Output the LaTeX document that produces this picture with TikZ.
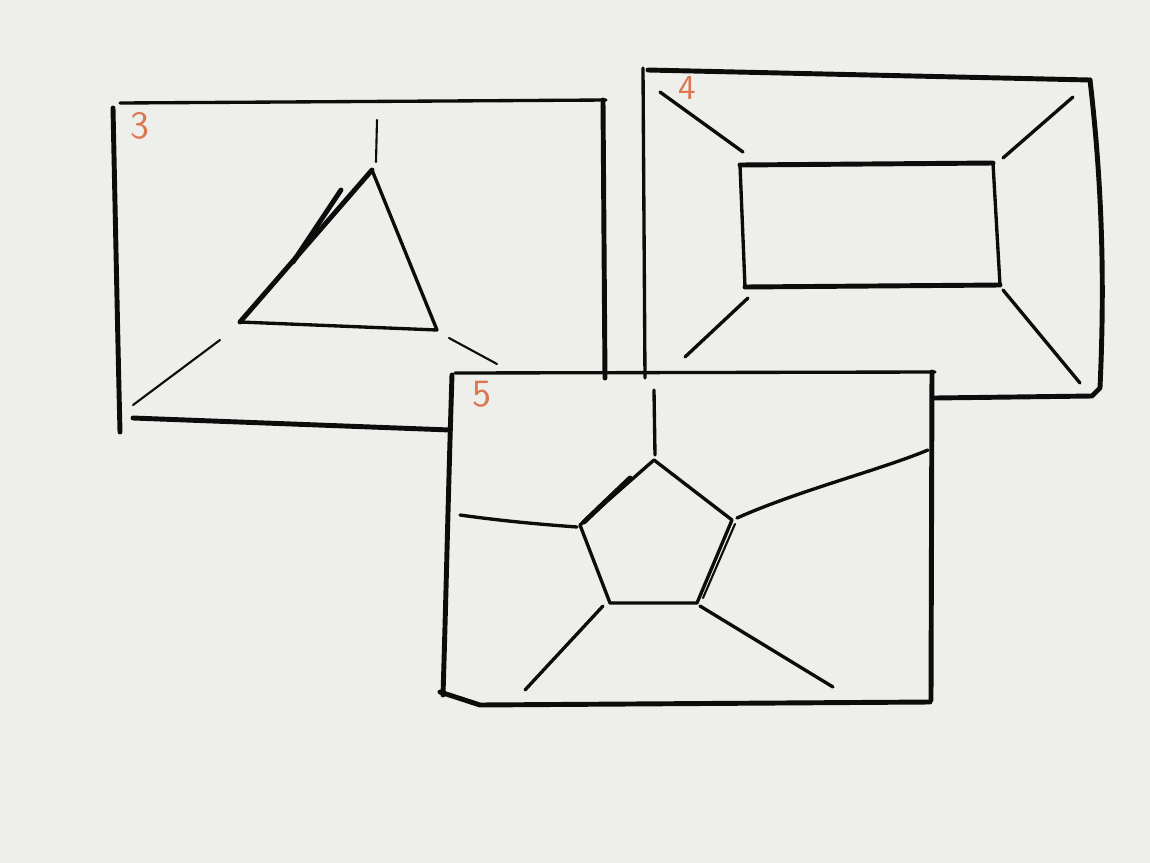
\documentclass[tikz,border=0pt]{standalone}
\usepackage{xcolor}
\usepackage{tikz}
\usetikzlibrary{calc}
\definecolor{SkInk}{RGB}{12,12,12}
\definecolor{SkPaper}{RGB}{238,238,234}
\definecolor{SkOrange}{RGB}{220,118,80}

\begin{document}
\begin{tikzpicture}[x=0.01cm, y=-0.01cm,
    ink/.style={SkInk, line width=0.6pt, line cap=round, line join=round},
    heavy/.style={ink, line width=1.4pt},
    medium/.style={ink, line width=0.95pt},
    tag/.style={SkOrange, font=\sffamily\fontsize{11}{11}\selectfont, inner sep=0pt}]
        % Paper
        \fill[SkPaper] (0,0) rectangle (1150,863);
        \useasboundingbox (0,0) rectangle (1150,863);

        % Sketch 3: triangle in a frame
        \draw[medium] (120,103) -- (606,100);
        \draw[heavy] (113,108) .. controls (116,250) and (118,350) .. (120,432);
        \draw[heavy] (133,418) -- (450,430);
        \draw[heavy] (603,100) -- (605,378);
        \node[tag] (n3) at (140,126) {3};
        \coordinate (t1) at (372,170);
        \coordinate (t2) at (240,322);
        \coordinate (t3) at (437,330);
        \draw[medium] (t2) -- (t3) -- (t1);
        \draw[heavy] (t1) -- (t2);
        \draw[heavy] (341,190) -- (293,262);
        \draw[ink] (377,120) -- (376,162);
        \draw[ink] (220,340) -- (133,405);
        \draw[ink] (449,338) -- (497,364);

        % Sketch 4: rectangle in a frame
        \draw[heavy] (648,70) -- (1090,80);
        \draw[medium] (643,68) -- (645,378);
        \draw[heavy] (1090,80) .. controls (1104,200) and (1104,300) .. (1100,388)
              -- (1092,396) -- (935,398);
        \node[tag, font=\sffamily\fontsize{10}{10}\selectfont] (n4) at (687,88) {4};
        \draw[heavy] (740,165) -- (993,163);
        \draw[medium] (993,163) -- (1000,285);
        \draw[heavy] (1000,285) -- (745,287);
        \draw[medium] (745,287) -- (740,165);
        \draw[medium] (660,92) -- (743,152);
        \draw[medium] (1003,158) -- (1073,97);
        \draw[medium] (748,298) -- (685,357);
        \draw[medium] (1003,290) -- (1080,383);

        % Sketch 5: pentagon in a frame
        \draw[medium] (455,373) -- (935,372);
        \draw[heavy] (452,375) .. controls (448,500) and (446,600) .. (443,695);
        \draw[heavy] (440,692) -- (480,705) -- (930,702);
        \draw[heavy] (932,372) -- (931,700);
        \node[tag] (n5) at (482,394) {5};
        \coordinate (p1) at (654,460);
        \coordinate (p2) at (732,520);
        \coordinate (p3) at (697,603);
        \coordinate (p4) at (610,603);
        \coordinate (p5) at (580,525);
        \draw[medium] (p1) -- (p2) -- (p3) -- (p4) -- (p5) -- cycle;
        \draw[heavy] (584,522) -- (630,478);
        \draw[ink] (735,524) -- (703,598);
        \draw[medium] (654,390) -- (655,455);
        \draw[medium] (460,515) .. controls (510,522) and (550,525) .. (577,527);
        \draw[medium] (737,518) .. controls (800,490) and (880,470) .. (928,450);
        \draw[medium] (603,606) -- (525,690);
        \draw[medium] (700,606) -- (833,687);
      \end{tikzpicture}
\end{document}
